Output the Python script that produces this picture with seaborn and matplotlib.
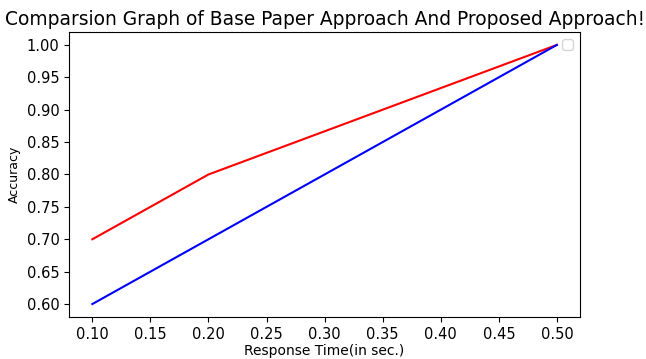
import matplotlib
matplotlib.use("Agg")
import matplotlib.pyplot as plt
import seaborn as sns
import pandas as pd

# data
response_time = [0.1, 0.2, 0.5]
proposed_acc = [0.7, 0.8, 1.0]
base_acc = [0.6, 0.7, 1.0]

df = pd.DataFrame({'time': response_time, 'proposed': proposed_acc, 'base': base_acc})

fig = plt.figure(figsize=(6.46, 3.59), dpi=100)
ax = fig.add_axes([0.107, 0.117, 0.791, 0.794])

sns.lineplot(data=df, x='time', y='proposed', color='red', ax=ax)
sns.lineplot(data=df, x='time', y='base', color='blue', ax=ax)

ax.set_xticks([0.10, 0.15, 0.20, 0.25, 0.30, 0.35, 0.40, 0.45, 0.50])
ax.set_yticks([0.60, 0.65, 0.70, 0.75, 0.80, 0.85, 0.90, 0.95, 1.00])
ax.tick_params(labelsize=10.5)
ax.set_xlabel('Response Time(in sec.)', labelpad=2)
ax.set_ylabel('Accuracy', fontsize=9)
ax.set_title('Comparsion Graph of Base Paper Approach And Proposed Approach!',
             fontsize=13.4, pad=5)
ax.legend(loc='upper right')

plt.savefig('out.png', dpi=100)
